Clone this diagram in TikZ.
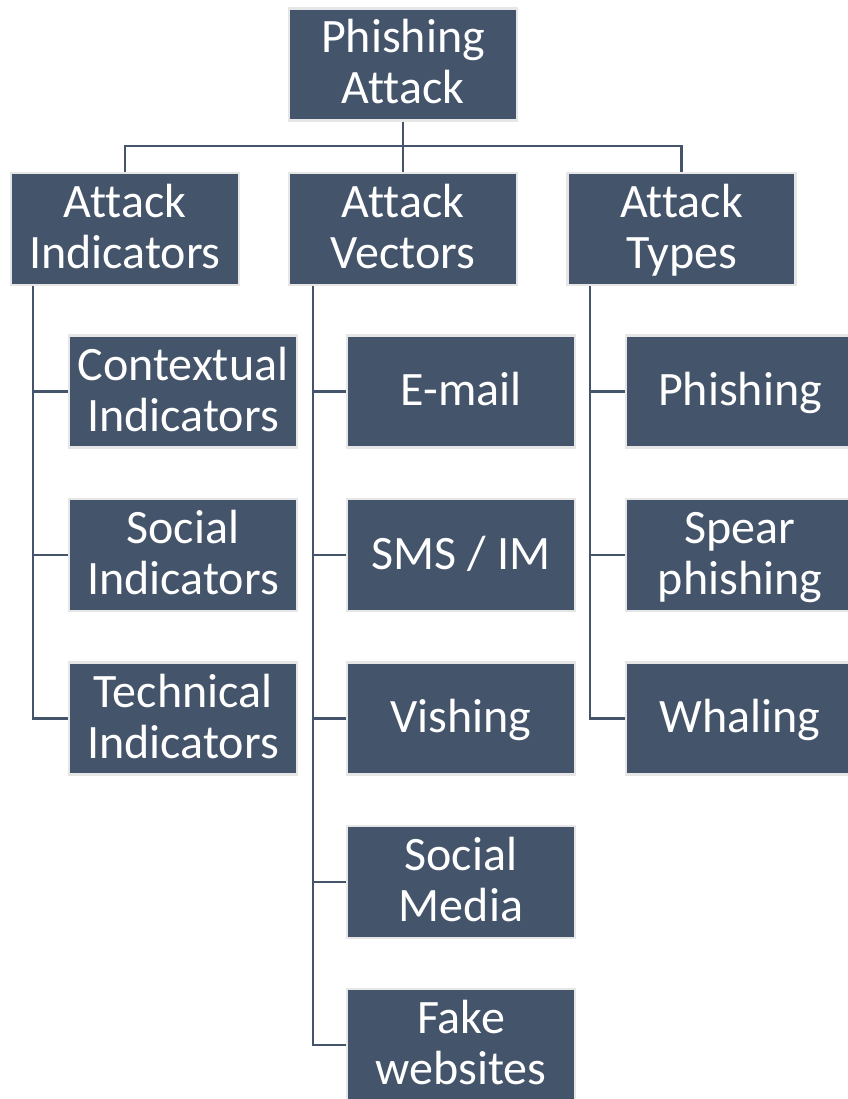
\documentclass[tikz,border=0pt]{standalone}
\usepackage{fontspec}
\setmainfont[Ligatures={NoCommon}]{Carlito}
\definecolor{boxfill}{HTML}{44546A}
\definecolor{boxedge}{HTML}{E6E6E6}
\newcommand\lnstrut{\rule[-11.5pt]{0pt}{51pt}}
\begin{document}
\begin{tikzpicture}[x=1pt,y=1pt,
  box/.style={rectangle, fill=boxfill, draw=boxedge, line width=2.5pt,
    minimum width=228pt, minimum height=112pt, inner sep=0pt,
    text=white, align=center, font=\fontsize{48}{51}\selectfont},
  conn/.style={draw=boxfill, line width=2.2pt}]
\useasboundingbox (0,0) rectangle (847,-1099);
\node[box] (top) at (403,-64.5) {\lnstrut Phishing\\\lnstrut Attack};
\node[box] (ai) at (125,-229) {\lnstrut Attack\\\lnstrut Indicators};
\node[box] (av) at (403,-229) {\lnstrut Attack\\\lnstrut Vectors};
\node[box] (at) at (681.5,-229) {\lnstrut Attack\\\lnstrut Types};
\node[box] (c1) at (183,-391.5) {\lnstrut Contextual\\\lnstrut Indicators};
\node[box] (c2) at (183,-555) {\lnstrut Social\\\lnstrut Indicators};
\node[box] (c3) at (183,-718.5) {\lnstrut Technical\\\lnstrut Indicators};
\node[box] (v1) at (461,-391.5) {\lnstrut E-mail};
\node[box] (v2) at (461,-555) {\lnstrut SMS / IM};
\node[box] (v3) at (461,-718.5) {\lnstrut Vishing};
\node[box] (v4) at (461,-882) {\lnstrut Social\\\lnstrut Media};
\node[box] (v5) at (461,-1045) {\lnstrut Fake\\\lnstrut websites};
\node[box] (t1) at (740,-391.5) {\lnstrut Phishing};
\node[box] (t2) at (740,-555) {\lnstrut Spear\\\lnstrut phishing};
\node[box] (t3) at (740,-718.5) {\lnstrut Whaling};
\coordinate (bus) at (403,-146);
\draw[conn] (top.south) -- (bus);
\draw[conn] (ai.north) |- (bus) -| (at.north);
\draw[conn] (bus) -- (av.north);
\draw[conn] (ai.south west) ++(23,0) |- (c3.west);
\draw[conn] (ai.south west) ++(23,0) |- (c1.west);
\draw[conn] (ai.south west) ++(23,0) |- (c2.west);
\draw[conn] (av.south west) ++(25,0) |- (v5.west);
\draw[conn] (av.south west) ++(25,0) |- (v1.west);
\draw[conn] (av.south west) ++(25,0) |- (v2.west);
\draw[conn] (av.south west) ++(25,0) |- (v3.west);
\draw[conn] (av.south west) ++(25,0) |- (v4.west);
\draw[conn] (at.south west) ++(24,0) |- (t3.west);
\draw[conn] (at.south west) ++(24,0) |- (t1.west);
\draw[conn] (at.south west) ++(24,0) |- (t2.west);
\end{tikzpicture}
\end{document}
